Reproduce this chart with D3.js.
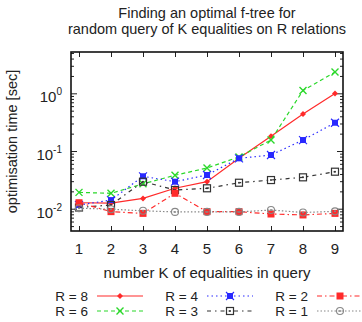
<!DOCTYPE html>
<html>
<head>
<meta charset="utf-8">
<script src="https://cdn.jsdelivr.net/npm/d3@7"></script>
<style>
  body { margin: 0; background: #fff; }
  text { font-family: "Liberation Sans", Arial, sans-serif; fill: #222; }
</style>
</head>
<body>
<div id="chart"></div>
<script>
// number of equalities K
var k_values = [1, 2, 3, 4, 5, 6, 7, 8, 9];

// optimisation time [sec] per R
var r8 = [0.0127, 0.0125, 0.0151, 0.0226, 0.0294, 0.075, 0.18, 0.437, 0.99];
var r6 = [0.0192, 0.0185, 0.027, 0.038, 0.0507, 0.079, 0.155, 1.12, 2.34];
var r4 = [0.0116, 0.0141, 0.0365, 0.0294, 0.0384, 0.0747, 0.0853, 0.155, 0.309];
var r3 = [0.0105, 0.0116, 0.0294, 0.0211, 0.0226, 0.0282, 0.0314, 0.035, 0.0438];
var r2 = [0.0127, 0.0089, 0.0083, 0.0185, 0.0089, 0.0089, 0.0081, 0.0078, 0.0083];
var r1 = [0.0102, 0.0098, 0.0092, 0.0088, 0.0088, 0.0088, 0.0095, 0.0086, 0.009];

var series_names = ['R = 8', 'R = 6', 'R = 4', 'R = 3', 'R = 2', 'R = 1'];
var y_tick_values = [0.01, 0.1, 1];
var y_tick_exps = ['-2', '-1', '0'];

var chart_width = 362;
var chart_height = 322;
var p_left = 71, p_right = 343, p_top = 52, p_bottom = 231;

var svg = d3.select('#chart')
	.append('svg')
	.attr('width', chart_width)
	.attr('height', chart_height);

var x_scale = d3.scaleLinear()
	.domain([0.75, 9.25])
	.range([p_left, p_right]);

var y_scale = d3.scaleLog()
	.domain([0.00411, 5.2])
	.range([p_bottom, p_top]);

// styles for each series
var styles = [
	{ data: r8, color: '#ff2a2a', dash: null, marker: 'plus' },
	{ data: r6, color: '#2ad82a', dash: '4,3', marker: 'cross' },
	{ data: r4, color: '#2a2aff', dash: '1.5,3', marker: 'xsquare' },
	{ data: r3, color: '#333333', dash: '4,4,1.5,4', marker: 'dotsquare' },
	{ data: r2, color: '#ff2a2a', dash: '5,3,1.5,3', marker: 'square' },
	{ data: r1, color: '#888888', dash: '1.5,2', marker: 'circle' }
];

// Title
svg.append('text')
	.attr('x', 207).attr('y', 18)
	.attr('text-anchor', 'middle')
	.style('font-size', '14.5px')
	.text('Finding an optimal f-tree for');
svg.append('text')
	.attr('x', 207).attr('y', 34)
	.attr('text-anchor', 'middle')
	.style('font-size', '14.5px')
	.text('random query of K equalities on R relations');

// minor y ticks
var minor = [];
[0.001, 0.01, 0.1, 1].forEach(function(base){
	for (var i = 2; i <= 9; i++) {
		var v = base * i;
		if (v > y_scale.domain()[0] && v < y_scale.domain()[1]) minor.push(v);
	}
});

var axis_g = svg.append('g');

// left and right axes with inward ticks
axis_g.append('g')
	.attr('transform', 'translate(' + p_left + ',0)')
	.call(d3.axisRight(y_scale).tickValues(y_tick_values).tickSize(6).tickFormat(''));
axis_g.append('g')
	.attr('transform', 'translate(' + p_left + ',0)')
	.call(d3.axisRight(y_scale).tickValues(minor).tickSize(3).tickFormat(''));
axis_g.append('g')
	.attr('transform', 'translate(' + p_right + ',0)')
	.call(d3.axisLeft(y_scale).tickValues(y_tick_values).tickSize(6).tickFormat(''));
axis_g.append('g')
	.attr('transform', 'translate(' + p_right + ',0)')
	.call(d3.axisLeft(y_scale).tickValues(minor).tickSize(3).tickFormat(''));

// bottom and top axes
axis_g.append('g')
	.attr('transform', 'translate(0,' + p_bottom + ')')
	.call(d3.axisTop(x_scale).tickValues(k_values).tickSize(5).tickFormat(''));
axis_g.append('g')
	.attr('transform', 'translate(0,' + p_top + ')')
	.call(d3.axisBottom(x_scale).tickValues(k_values).tickSize(5).tickFormat(''));

axis_g.selectAll('.domain').remove();
axis_g.selectAll('line').attr('stroke', '#222').attr('stroke-width', 1);

// frame
svg.append('rect')
	.attr('x', p_left).attr('y', p_top)
	.attr('width', p_right - p_left).attr('height', p_bottom - p_top)
	.attr('fill', 'none')
	.attr('stroke', '#111')
	.attr('stroke-width', 1.6);

// x tick labels
svg.append('g').selectAll('text')
	.data(k_values)
	.enter()
	.append('text')
	.attr('x', function(d){ return x_scale(d); })
	.attr('y', 254)
	.attr('text-anchor', 'middle')
	.style('font-size', '15px')
	.text(function(d){ return d; });

// y tick labels: 10^n
var ylab = svg.append('g').selectAll('text')
	.data(y_tick_values)
	.enter()
	.append('text')
	.attr('x', 62)
	.attr('y', function(d){ return y_scale(d) + 9; })
	.attr('text-anchor', 'end')
	.style('font-size', '15px');
ylab.append('tspan').text('10');
ylab.append('tspan')
	.attr('dy', -7)
	.style('font-size', '10px')
	.text(function(d, i){ return y_tick_exps[i]; });

// axis titles
svg.append('text')
	.attr('transform', 'translate(17,' + ((p_top + p_bottom) / 2) + ') rotate(-90)')
	.attr('text-anchor', 'middle')
	.style('font-size', '14.5px')
	.text('optimisation time [sec]');
svg.append('text')
	.attr('x', 207).attr('y', 278)
	.attr('text-anchor', 'middle')
	.style('font-size', '15px')
	.text('number K of equalities in query');

// marker drawing
function drawMarker(g, kind, color, cx, cy) {
	if (kind === 'plus') {
		g.append('path')
			.attr('d', 'M' + (cx - 3) + ',' + cy + 'L' + cx + ',' + (cy - 3) + 'L' + (cx + 3) + ',' + cy + 'L' + cx + ',' + (cy + 3) + 'Z')
			.attr('fill', color);
	} else if (kind === 'cross') {
		g.append('path')
			.attr('d', 'M' + (cx - 3.5) + ',' + (cy - 3.5) + 'L' + (cx + 3.5) + ',' + (cy + 3.5) + 'M' + (cx - 3.5) + ',' + (cy + 3.5) + 'L' + (cx + 3.5) + ',' + (cy - 3.5))
			.attr('stroke', color).attr('stroke-width', 1.4);
	} else if (kind === 'xsquare') {
		g.append('rect')
			.attr('x', cx - 3).attr('y', cy - 3)
			.attr('width', 6).attr('height', 6)
			.attr('fill', color);
		g.append('path')
			.attr('d', 'M' + (cx - 4) + ',' + (cy - 4) + 'L' + (cx + 4) + ',' + (cy + 4) + 'M' + (cx - 4) + ',' + (cy + 4) + 'L' + (cx + 4) + ',' + (cy - 4))
			.attr('stroke', color).attr('stroke-width', 1.1);
	} else if (kind === 'dotsquare') {
		g.append('rect')
			.attr('x', cx - 3.5).attr('y', cy - 3.5)
			.attr('width', 7).attr('height', 7)
			.attr('fill', 'none')
			.attr('stroke', color).attr('stroke-width', 1.2);
		g.append('circle')
			.attr('cx', cx).attr('cy', cy).attr('r', 1)
			.attr('fill', color);
	} else if (kind === 'square') {
		g.append('rect')
			.attr('x', cx - 3.5).attr('y', cy - 3.5)
			.attr('width', 7).attr('height', 7)
			.attr('fill', color);
	} else if (kind === 'circle') {
		g.append('circle')
			.attr('cx', cx).attr('cy', cy).attr('r', 3.5)
			.attr('fill', 'none')
			.attr('stroke', color).attr('stroke-width', 1.1);
		g.append('circle')
			.attr('cx', cx).attr('cy', cy).attr('r', 1)
			.attr('fill', color);
	}
}

// lines and points
var line = d3.line()
	.x(function(d, i){ return x_scale(k_values[i]); })
	.y(function(d){ return y_scale(d); });

var plot = svg.append('g');
styles.forEach(function(s){
	var g = plot.append('g');
	g.append('path')
		.datum(s.data)
		.attr('d', line)
		.attr('fill', 'none')
		.attr('stroke', s.color)
		.attr('stroke-width', 1.2)
		.attr('stroke-dasharray', s.dash);
	s.data.forEach(function(d, i){
		drawMarker(g, s.marker, s.color, x_scale(k_values[i]), y_scale(d));
	});
});

// legend
var legend = svg.append('g');
styles.forEach(function(s, i){
	var col = Math.floor(i / 2), row = i % 2;
	var tx = 88 + col * 110;
	var ty = 296 + row * 15;
	legend.append('text')
		.attr('x', tx).attr('y', ty + 5)
		.attr('text-anchor', 'end')
		.style('font-size', '13.5px')
		.text(series_names[i]);
	legend.append('line')
		.attr('x1', tx + 9).attr('x2', tx + 55)
		.attr('y1', ty).attr('y2', ty)
		.attr('stroke', s.color)
		.attr('stroke-width', 1.2)
		.attr('stroke-dasharray', s.dash);
	drawMarker(legend.append('g'), s.marker, s.color, tx + 32, ty);
});
</script>
</body>
</html>
